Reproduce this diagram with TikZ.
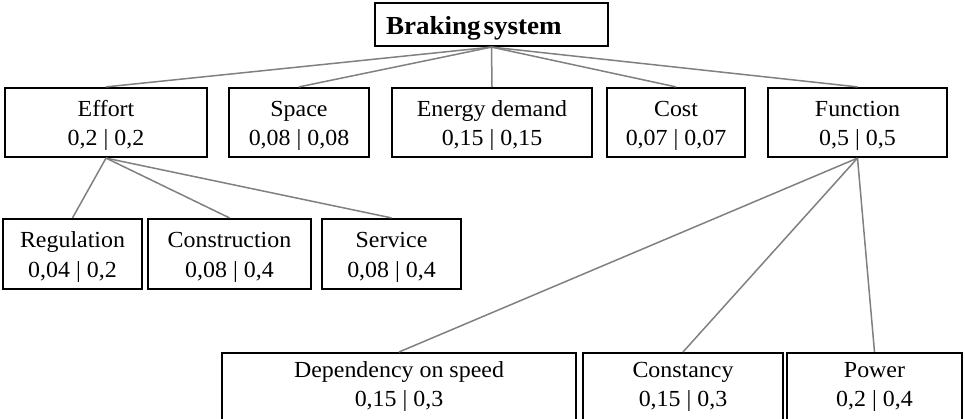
\documentclass[tikz,border=0pt]{standalone}
\usepackage{fontspec}
\setmainfont{Liberation Serif}[FakeStretch=1.04]

\begin{document}
\begin{tikzpicture}[x=1pt,y=-1pt,
  box/.style={draw=black, line width=2.2pt, align=center, inner sep=0pt,
    font=\fontsize{23}{29}\selectfont, text height=50pt, text depth=4pt},
  low/.style={box, anchor=north, inner ysep=9pt, text height=44.7pt, text depth=16pt},
  link/.style={draw=gray, line width=1.5pt}]
\useasboundingbox (0,0) rectangle (965,419);
\clip (0,0) rectangle (965,419);

\node[box, text width=211pt, align=left, inner xsep=11pt, minimum height=43pt,
  text height=26pt, text depth=5pt, font={\fontsize{26}{29}\selectfont\bfseries}] (root) at (491.5,24.5) {\spaceskip 3pt\relax Braking system};

\node[box, minimum width=202pt, minimum height=69pt] (effort) at (106,122.5) {Effort\\0,2 | 0,2};
\node[box, minimum width=140pt, minimum height=69pt] (space) at (299,122.5) {Space\\0,08 | 0,08};
\node[box, minimum width=200pt, minimum height=69pt] (energy) at (492,122.5) {Energy demand\\0,15 | 0,15};
\node[box, minimum width=138pt, minimum height=69pt] (cost) at (676,122.5) {Cost\\0,07 | 0,07};
\node[box, minimum width=179pt, minimum height=69pt] (function) at (857.5,122.5) {Function\\0,5 | 0,5};

\node[box, minimum width=139pt, minimum height=70pt] (regulation) at (72.5,254) {Regulation\\0,04 | 0,2};
\node[box, minimum width=163pt, minimum height=70pt] (construction) at (229.5,254) {Construction\\0,08 | 0,4};
\node[box, minimum width=139pt, minimum height=70pt] (service) at (391.5,254) {Service\\0,08 | 0,4};

\node[low, minimum width=354pt] (dependency) at (399,352) {Dependency on speed\\0,15 | 0,3};
\node[low, minimum width=200pt] (constancy) at (683,352) {Constancy\\0,15 | 0,3};
\node[low, minimum width=175pt] (power) at (874.5,352) {Power\\0,2 | 0,4};

\draw[link] (root.south) -- (effort.north);
\draw[link] (root.south) -- (space.north);
\draw[link] (root.south) -- (energy.north);
\draw[link] (root.south) -- (cost.north);
\draw[link] (root.south) -- (function.north);

\draw[link] (effort.south) -- (regulation.north);
\draw[link] (effort.south) -- (construction.north);
\draw[link] (effort.south) -- (service.north);

\draw[link] (function.south) -- (dependency.north);
\draw[link] (function.south) -- (constancy.north);
\draw[link] (function.south) -- (power.north);
\end{tikzpicture}
\end{document}
